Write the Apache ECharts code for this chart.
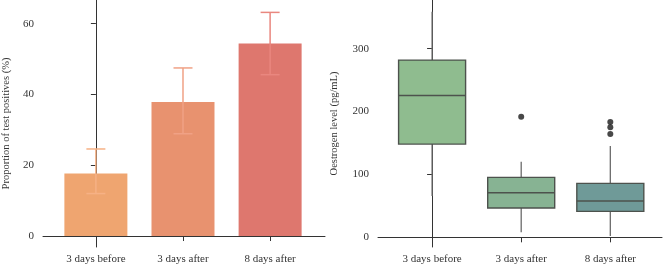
<!DOCTYPE html>
<html>
<head>
<meta charset="utf-8">
<script src="https://cdn.jsdelivr.net/npm/echarts@6/dist/echarts.min.js"></script>
<style>
html, body { margin: 0; padding: 0; background: #fff; }
#chart { width: 664px; height: 267px; }
</style>
</head>
<body>
<div id="chart"></div>
<script>
var categories = ["3 days before", "3 days after", "8 days after"];

// left panel: proportion of test positives (%)
var barValues = [17.7, 37.9, 54.4];
var errLow = [12.0, 28.9, 45.6];
var errHigh = [24.6, 47.5, 63.2];
var barColors = ["#EFA570", "#E8926F", "#DE776E"];
var errColors = ["#F6B185", "#F0A185", "#E9877F"];
var leftTicks = [0, 20, 40, 60];

// right panel: oestrogen level (pg/mL), [min, Q1, median, Q3, max]
var boxValues = [
	[65.7, 148.3, 225.7, 281.9, 358.7],
	[7.9, 46.6, 70.9, 95.4, 120.2],
	[2.0, 41.3, 57.7, 85.8, 145.2]
];
var boxColors = ["#8FBC8F", "#87B393", "#6F9A98"];
var outliers = [[1, 191.7], [2, 183.3], [2, 174.9], [2, 164.3]];
var rightTicks = [0, 100, 200, 300];

var font = "Liberation Serif";
var textColor = "#333";

function xAxisFor(gridIndex, min, max) {
	return {
		type: "value", gridIndex: gridIndex, min: min, max: max,
		splitLine: { show: false },
		axisLine: { show: true, lineStyle: { color: "#333", width: 1 } },
		axisTick: { show: true, length: 5, customValues: [0, 1, 2], lineStyle: { color: "#333" } },
		axisLabel: {
			customValues: [0, 1, 2], margin: 7,
			fontFamily: font, fontSize: 11, color: textColor,
			formatter: function(v) { return categories[Math.round(v)]; }
		}
	};
}

function yAxisFor(gridIndex, min, max, ticks, name, gap) {
	return {
		type: "value", gridIndex: gridIndex, min: min, max: max,
		name: name, nameLocation: "middle", nameGap: gap, nameRotate: 90,
		nameTextStyle: { fontFamily: font, fontSize: 10.5, color: textColor },
		splitLine: { show: false },
		axisLine: { show: true, lineStyle: { color: "#333", width: 1 } },
		axisTick: { show: true, length: 5, customValues: ticks, lineStyle: { color: "#333" } },
		axisLabel: { customValues: ticks, margin: 9, fontFamily: font, fontSize: 11, color: textColor }
	};
}

var barData = [];
var errData = [];
var boxData = [];
for (var i = 0; i < categories.length; i++) {
	barData.push({ value: [i, barValues[i]], itemStyle: { color: barColors[i] } });
	errData.push([i, errLow[i], errHigh[i]]);
	boxData.push([i].concat(boxValues[i]));
}

var chart = echarts.init(document.getElementById("chart"), null, { renderer: "canvas" });

chart.setOption({
	animation: false,
	grid: [
		{ left: 37, top: 0, width: 288, bottom: 20 },
		{ left: 378, top: 0, right: 2, bottom: 20 }
	],
	xAxis: [
		xAxisFor(0, -0.607, 2.63),
		xAxisFor(1, -0.607, 2.58)
	],
	yAxis: [
		yAxisFor(0, -3.1, 66.7, leftTicks, "Proportion of test positives (%)", 31),
		yAxisFor(1, -15.4, 377.5, rightTicks, "Oestrogen level (pg/mL)", 38)
	],
	series: [
		{
			type: "bar", xAxisIndex: 0, yAxisIndex: 0,
			barWidth: 63, data: barData, z: 2
		},
		{
			type: "custom", xAxisIndex: 0, yAxisIndex: 0, z: 5,
			data: errData,
			renderItem: function(params, api) {
				var x = api.value(0);
				var lo = api.coord([x, api.value(1)]);
				var hi = api.coord([x, api.value(2)]);
				var half = 9.5;
				var style = { stroke: errColors[params.dataIndex], lineWidth: 1.5 };
				return {
					type: "group",
					children: [
						{ type: "line", shape: { x1: hi[0], y1: hi[1], x2: lo[0], y2: lo[1] }, style: style },
						{ type: "line", shape: { x1: hi[0] - half, y1: hi[1], x2: hi[0] + half, y2: hi[1] }, style: style },
						{ type: "line", shape: { x1: lo[0] - half, y1: lo[1], x2: lo[0] + half, y2: lo[1] }, style: style }
					]
				};
			}
		},
		{
			// box plot drawn by hand: ggplot style whiskers without end caps
			type: "custom", xAxisIndex: 1, yAxisIndex: 1, z: 3,
			data: boxData,
			renderItem: function(params, api) {
				var x = api.value(0);
				var pMin = api.coord([x, api.value(1)]);
				var pQ1 = api.coord([x, api.value(2)]);
				var pMed = api.coord([x, api.value(3)]);
				var pQ3 = api.coord([x, api.value(4)]);
				var pMax = api.coord([x, api.value(5)]);
				var half = 33.5;
				var whisker = { stroke: "#6b6b6b", lineWidth: 1.3 };
				var border = { stroke: "#4d524d", lineWidth: 1.4 };
				return {
					type: "group",
					children: [
						{ type: "line", shape: { x1: pMax[0], y1: pMax[1], x2: pQ3[0], y2: pQ3[1] }, style: whisker },
						{ type: "line", shape: { x1: pQ1[0], y1: pQ1[1], x2: pMin[0], y2: pMin[1] }, style: whisker },
						{ type: "rect", shape: { x: pQ3[0] - half, y: pQ3[1], width: half * 2, height: pQ1[1] - pQ3[1] },
							style: { fill: boxColors[params.dataIndex], stroke: border.stroke, lineWidth: border.lineWidth } },
						{ type: "line", shape: { x1: pMed[0] - half, y1: pMed[1], x2: pMed[0] + half, y2: pMed[1] }, style: border }
					]
				};
			}
		},
		{
			type: "scatter", xAxisIndex: 1, yAxisIndex: 1, z: 4,
			symbolSize: 6, itemStyle: { color: "#1a1a1a" },
			data: outliers
		}
	]
});
</script>
</body>
</html>
